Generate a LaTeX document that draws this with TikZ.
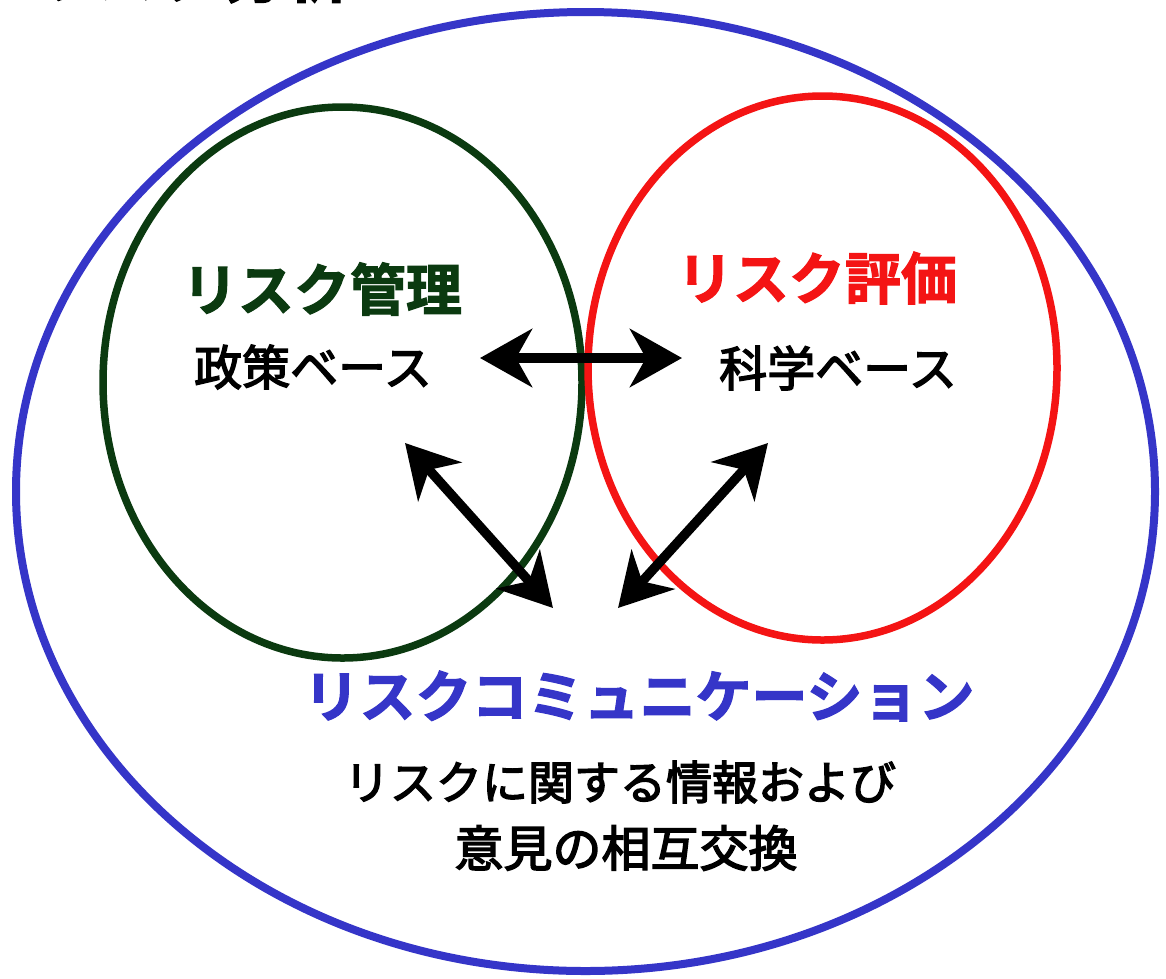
\documentclass[tikz,border=0pt]{standalone}
\usepackage{fontspec}
\newfontfamily\jp{Noto Sans CJK JP}
\newfontfamily\jpm[FakeBold=3]{Noto Sans CJK JP}
\newfontfamily\jph[FakeBold=2]{Noto Sans CJK JP Bold}
\usetikzlibrary{arrows.meta}
\definecolor{mgreen}{HTML}{0B3A10}
\definecolor{mred}{HTML}{F41414}
\definecolor{mblue}{HTML}{3535C8}
\tikzset{
  ring/.style={line width=8pt},
  tipb/.tip={Stealth[length=52pt,width=58pt,inset=16pt]},
  dbl/.style={line width=9.5pt, tipb-tipb},
  headtxt/.style={inner sep=0pt, font=\jph\fontsize{56}{60}\selectfont},
  bodytxt/.style={inner sep=0pt, font=\jpm\fontsize{48}{52}\selectfont},
  commtxt/.style={inner sep=0pt, font=\jpm\fontsize{46}{50}\selectfont}
}
\begin{document}
\begin{tikzpicture}[x=1pt,y=-1pt]
\useasboundingbox (0,0) rectangle (1166,978);
\clip (0,0) rectangle (1166,978);
\fill[white] (0,0) rectangle (1166,978);

% title (cut off at the top edge, as in the reference)
\node[anchor=base west, inner sep=0pt, font=\jph\fontsize{64}{66}\selectfont] (title) at (30,-3) {リスク分析};

% circles
\draw[ring, mblue] (585.5,491.5) ellipse [x radius=569.5, y radius=479.5];
\draw[ring, mgreen, line width=7.5pt] (342.5,382.5) ellipse [x radius=239.5, y radius=275.5];
\draw[ring, mred, line width=7.5pt] (822.5,368) ellipse [x radius=234.5, y radius=272];

% texts
\node[headtxt, text=mgreen] (kanri) at (322,289) {リスク管理};
\node[bodytxt] (seisaku) at (313,367) {政策ベース};
\node[headtxt, text=mred] (hyoka) at (817,278) {リスク評価};
\node[bodytxt] (kagaku) at (838,368) {科学ベース};
\node[headtxt, text=mblue] (comm) at (639,696) {リスクコミュニケーション};
\node[commtxt] (line2) at (620,782) {リスクに関する情報および};
\node[commtxt, font=\jpm\fontsize{49}{52}\selectfont] (line3) at (626,848) {意見の相互交換};

% arrow end points
\coordinate (hL) at (480,358);
\coordinate (hR) at (682,358);
\coordinate (lU) at (405,443);
\coordinate (lD) at (553,608);
\coordinate (rU) at (768,443);
\coordinate (rD) at (618,608);

\draw[dbl] (hL) -- (hR);
\draw[dbl] (lU) -- (lD);
\draw[dbl] (rU) -- (rD);
\end{tikzpicture}
\end{document}
